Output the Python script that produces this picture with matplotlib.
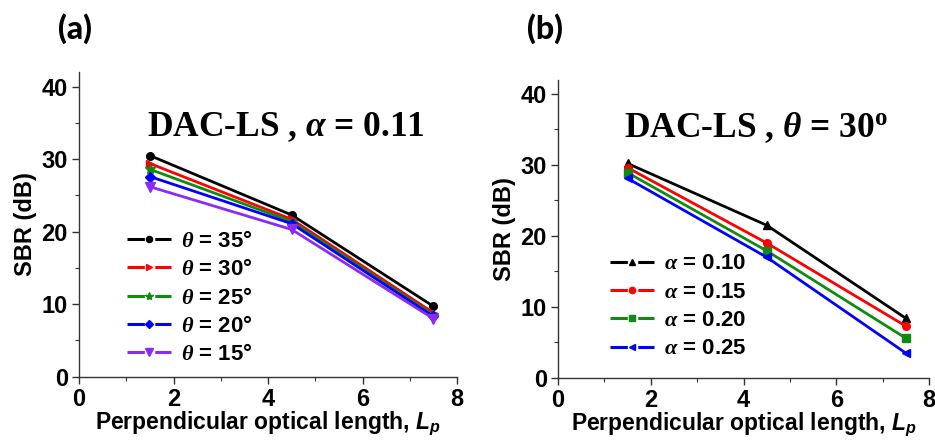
import matplotlib
matplotlib.use("Agg")
import matplotlib.pyplot as plt
from matplotlib.ticker import MultipleLocator
from matplotlib.lines import Line2D

plt.rcParams['font.family'] = ['Liberation Sans', 'DejaVu Sans']
plt.rcParams['font.weight'] = 'bold'
plt.rcParams['mathtext.fontset'] = 'custom'
plt.rcParams['mathtext.it'] = 'Liberation Serif:italic'
plt.rcParams['mathtext.rm'] = 'Liberation Serif:bold'
plt.rcParams['mathtext.bf'] = 'Liberation Serif:bold'
plt.rcParams['mathtext.bfit'] = 'Liberation Serif:bold:italic'
plt.rcParams['mathtext.sf'] = 'Liberation Sans:bold:italic'
plt.rcParams['lines.scale_dashes'] = False

# Panel (a) data
lp = [1.5, 4.5, 7.5]
theta_labels = ['35', '30', '25', '20', '15']
sbr_theta35 = [30.5, 22.3, 9.7]
sbr_theta30 = [29.4, 21.7, 8.8]
sbr_theta25 = [28.6, 21.4, 8.5]
sbr_theta20 = [27.6, 21.1, 8.3]
sbr_theta15 = [26.2, 20.3, 8.0]

# Panel (b) data
alpha_labels = ['0.10', '0.15', '0.20', '0.25']
sbr_alpha010 = [30.2, 21.5, 8.4]
sbr_alpha015 = [29.6, 19.0, 7.3]
sbr_alpha020 = [28.9, 17.9, 5.6]
sbr_alpha025 = [28.1, 17.0, 3.5]

fig = plt.figure(figsize=(9.35, 4.4), dpi=100)
axa = fig.add_axes([0.0845, 0.1440, 0.4043, 0.6920])
axb = fig.add_axes([0.5968, 0.1410, 0.3968, 0.6780])

def style(ax):
    ax.set_xlim(0, 8)
    ax.set_ylim(0, 42)
    ax.spines['top'].set_visible(False)
    ax.spines['right'].set_visible(False)
    for s in ('left', 'bottom'):
        ax.spines[s].set_linewidth(1.0)
        ax.spines[s].set_color('#333333')
    ax.xaxis.set_major_locator(MultipleLocator(2))
    ax.xaxis.set_minor_locator(MultipleLocator(1))
    ax.yaxis.set_major_locator(MultipleLocator(10))
    ax.yaxis.set_minor_locator(MultipleLocator(5))
    ax.tick_params(which='major', direction='out', length=5, width=1.0,
                   labelsize=17, pad=3, color='#333333')
    ax.tick_params(which='minor', direction='out', length=3, width=0.8, color='#333333')
    for lab in ax.get_xticklabels() + ax.get_yticklabels():
        lab.set_fontweight('bold')
    ax.set_ylabel('SBR (dB)', fontsize=17, fontweight='bold', labelpad=3)
    ax.set_xlabel(r'Perpendicular optical length, $\mathsf{L_p}$', fontsize=16.5,
                  fontweight='bold', labelpad=-1)

lw = 2.0
ms = 5.5
leg_ms = 4.5
dash = (0, (12.5, 7.5))

series_a = [sbr_theta35, sbr_theta30, sbr_theta25, sbr_theta20, sbr_theta15]
colors_a = ['black', '#ff0000', '#108a10', '#0000ff', '#8b2cf5']
markers_a = ['o', '>', '*', 'D', 'v']
msz_a = [ms, ms + 0.5, ms + 2, ms - 0.5, ms + 1]
handles_a = []
for vals, c, m, lbl, sz in zip(series_a, colors_a, markers_a, theta_labels, msz_a):
    axa.plot(lp, vals, color=c, marker=m, markersize=sz, linewidth=lw)
    handles_a.append(Line2D([], [], color=c, marker=m, markersize=sz * 0.8,
                            linewidth=2.2, linestyle=dash,
                            label=r'$\theta$ = ' + lbl + '°'))
style(axa)
axa.legend(handles=handles_a, loc='center left', bbox_to_anchor=(0.127, 0.258),
           frameon=False, handlelength=2.0, handletextpad=0.45, labelspacing=0.33,
           borderaxespad=0, borderpad=0, prop={'weight': 'bold', 'size': 16})
axa.text(4.38, 34.4, r'DAC-LS , $\mathbfit{\alpha}$ = 0.11', fontsize=25.5,
         fontfamily='Liberation Serif', fontweight='bold', ha='center', va='center')

series_b = [sbr_alpha010, sbr_alpha015, sbr_alpha020, sbr_alpha025]
colors_b = ['black', '#ff0000', '#108a10', '#0000ff']
markers_b = ['^', 'o', 's', '<']
handles_b = []
for vals, c, m, lbl in zip(series_b, colors_b, markers_b, alpha_labels):
    axb.plot(lp, vals, color=c, marker=m, markersize=ms, linewidth=lw)
    handles_b.append(Line2D([], [], color=c, marker=m, markersize=leg_ms,
                            linewidth=2.2, linestyle=dash,
                            label=r'$\alpha$ = ' + lbl))
style(axb)
axb.legend(handles=handles_b, loc='center left', bbox_to_anchor=(0.14, 0.24),
           frameon=False, handlelength=2.0, handletextpad=0.45, labelspacing=0.33,
           borderaxespad=0, borderpad=0, prop={'weight': 'bold', 'size': 16})
axb.text(4.27, 35.3, r'DAC-LS , $\mathbfit{\theta}$ = 30$^{\mathrm{o}}$', fontsize=25.5,
         fontfamily='Liberation Serif', fontweight='bold', ha='center', va='center')

fig.text(0.080, 0.936, '(a)', fontsize=23, fontfamily='Lato', fontweight='black',
         ha='center', va='center')
fig.text(0.583, 0.936, '(b)', fontsize=23, fontfamily='Lato', fontweight='black',
         ha='center', va='center')

fig.savefig('out.png', dpi=100)
